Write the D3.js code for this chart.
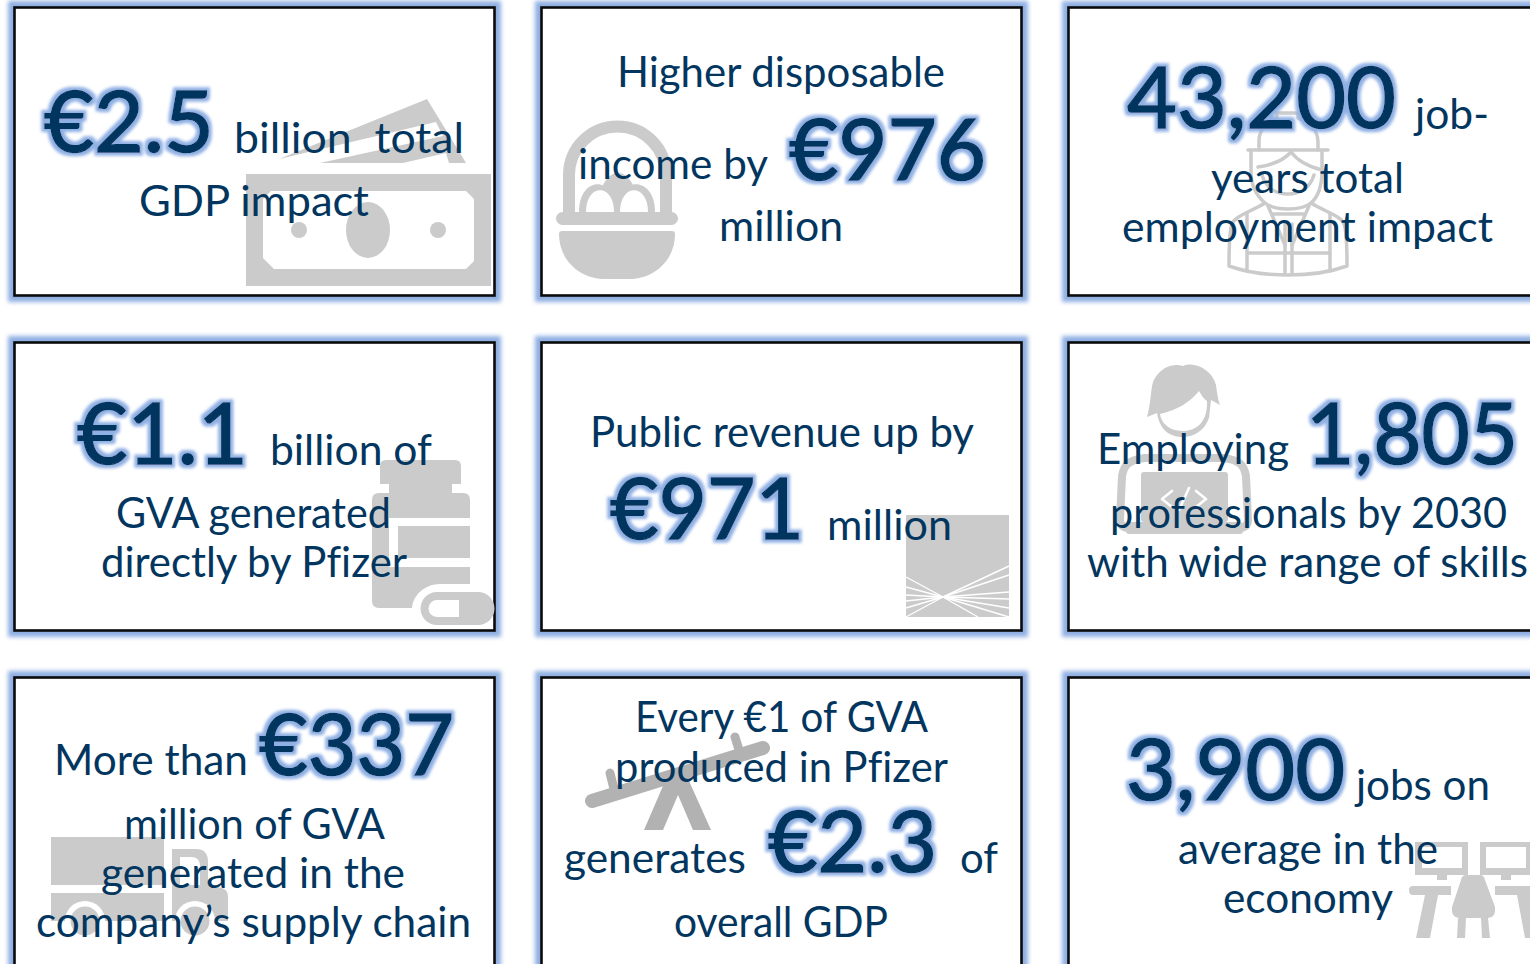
<!DOCTYPE html>
<html>
<head>
<meta charset="utf-8">
<title>Pfizer economic impact</title>
<script src="https://cdn.jsdelivr.net/npm/d3@7"></script>
<style>
  html, body { margin: 0; padding: 0; background: #fff; overflow: hidden; }
  text { font-family: Lato, "Open Sans", sans-serif; fill: #03365f; white-space: pre; font-variant-ligatures: none; }
  .small { font-size: 42px; }
  .big { font-size: 85px; stroke: #03365f; stroke-width: 1.5px; }
</style>
</head>
<body>
<div id="chart"></div>
<script>
// DATA, card by card, in reading order. Headline figures are flagged in bigParts
const cardText = [
  ["€2.5", "billion  total", "GDP impact"],
  ["Higher disposable", "income by", "€976", "million"],
  ["43,200", "job-", "years total", "employment impact"],
  ["€1.1", "billion of", "GVA generated", "directly by Pfizer"],
  ["Public revenue up by", "€971", "million"],
  ["Employing", "1,805", "professionals by 2030", "with wide range of skills"],
  ["More than", "€337", "million of GVA", "generated in the", "company’s supply chain"],
  ["Every €1 of GVA", "produced in Pfizer", "generates", "€2.3", "of", "overall GDP"],
  ["3,900", "jobs on", "average in the", "economy"]
];
const bigParts = ["€2.5", "€976", "43,200", "€1.1", "€971", "1,805", "€337", "€2.3", "3,900"];
const columns = [0, 1, 2];
const rows = [0, 1, 2];

// where each piece of text sits: [left, baseline, right]
const textSlots = [
  [[44, 152, 214], [234, 153, 464], [139, 216, 369]],
  [[617, 87, 945], [578, 179, 768], [789, 180, 986], [719, 241, 843]],
  [[1127, 128, 1396], [1415, 129, 1489], [1211, 193, 1404], [1122, 242, 1493]],
  [[77, 464, 248], [270, 465, 432], [116, 528, 391], [101, 577, 407]],
  [[590, 447, 974], [610, 539, 804], [827, 540, 952]],
  [[1097, 464, 1289], [1306, 464, 1518], [1110, 528, 1507], [1087, 577, 1528]],
  [[54, 775, 248], [259, 775, 454], [124, 839, 385], [101, 888, 405], [36, 937, 471]],
  [[635, 732, 928], [615, 782, 948], [564, 873, 746], [768, 872, 937], [960, 873, 998], [674, 937, 888]],
  [[1126, 800, 1345], [1356, 800, 1490], [1178, 864, 1438], [1223, 913, 1393]]
];

const width = 1530;
const height = 964;
const cardWidth = 480;
const cardHeight = 288;
const frameBlue = "#8fafe2";
const iconGrey = "#cbcbcb";

const xCard = d3.scaleLinear().domain([0, 2]).range([14.5, 1068.5]);
const yCard = d3.scaleLinear().domain([0, 2]).range([7.5, 677.5]);

const svg = d3.select("#chart").append("svg")
  .attr("width", width)
  .attr("height", height)
  .style("display", "block");

// glow filters
const defs = svg.append("defs");
defs.append("filter").attr("id", "frameGlow")
  .attr("x", "-5%").attr("y", "-5%").attr("width", "110%").attr("height", "110%")
  .append("feGaussianBlur").attr("stdDeviation", 2.2);

const textGlow = defs.append("filter").attr("id", "textGlow")
  .attr("x", "-10%").attr("y", "-20%").attr("width", "120%").attr("height", "140%");
textGlow.append("feMorphology").attr("in", "SourceAlpha").attr("operator", "dilate")
  .attr("radius", 2.8).attr("result", "fat");
textGlow.append("feGaussianBlur").attr("in", "fat").attr("stdDeviation", 1.8).attr("result", "soft");
textGlow.append("feFlood").attr("flood-color", "#8fb0e4").attr("result", "blue");
textGlow.append("feComposite").attr("in", "blue").attr("in2", "soft").attr("operator", "in").attr("result", "halo");
const merge = textGlow.append("feMerge");
merge.append("feMergeNode").attr("in", "halo");
merge.append("feMergeNode").attr("in", "SourceGraphic");

////////// frames //////////
const cells = d3.cross(rows, columns, (r, c) => ({ r, c }));

svg.append("g").selectAll("rect")
  .data(cells)
  .join("rect")
  .attr("x", (d) => xCard(d.c))
  .attr("y", (d) => yCard(d.r))
  .attr("width", cardWidth)
  .attr("height", cardHeight)
  .attr("fill", "none")
  .attr("stroke", frameBlue)
  .attr("stroke-width", 13)
  .attr("filter", "url(#frameGlow)");

svg.append("g").selectAll("rect")
  .data(cells)
  .join("rect")
  .attr("x", (d) => xCard(d.c))
  .attr("y", (d) => yCard(d.r))
  .attr("width", cardWidth)
  .attr("height", cardHeight)
  .attr("fill", "#fff")
  .attr("stroke", "#0a0a0a")
  .attr("stroke-width", 2.6);

////////// icons //////////
const icons = svg.append("g").attr("class", "icons");

function shape(d, fill) {
  return icons.append("path").attr("d", d).attr("fill", fill || iconGrey).attr("fill-rule", "evenodd");
}
function outline(d, w, colour) {
  return icons.append("path").attr("d", d).attr("fill", "none")
    .attr("stroke", colour || iconGrey).attr("stroke-width", w)
    .attr("stroke-linecap", "round").attr("stroke-linejoin", "round");
}

// banknotes
shape("M279,159 L427,99 L466,163 L449,163 L446,153 L403,163 L320,163 L443,136 L436,122 Z");
shape("M246,174 H491 V286 H246 Z M271,191 L263,199 V258 L274,269 H466 L474,261 V199 L466,191 Z");
icons.append("ellipse").attr("cx", 368).attr("cy", 230).attr("rx", 22).attr("ry", 28).attr("fill", iconGrey);
icons.selectAll("circle.dot").data([299, 438]).join("circle").attr("class", "dot")
  .attr("cx", (d) => d).attr("cy", 230).attr("r", 8).attr("fill", iconGrey);

// basket
outline("M569,213 V175 A48.5,48.5 0 0 1 666,175 V213", 12).attr("stroke-linecap", "butt");
shape("M598,212 C598,160 638,160 638,212 Z");
shape("M579,212 C579,175 616,175 616,212 Z");
shape("M617,212 C617,175 655,175 655,212 Z");
shape("M586,212 C586,183 614,183 614,212 Z", "#fff");
shape("M620,212 C620,183 648,183 648,212 Z", "#fff");
icons.append("rect").attr("x", 556).attr("y", 212).attr("width", 122).attr("height", 13).attr("rx", 6.5).attr("fill", iconGrey);
shape("M559,234 Q559,231 562,231 H672 Q675,231 675,234 C675,262 652,279 630,279 H604 C582,279 559,262 559,234 Z");

// worker
outline("M1248,150 H1328", 3.5);
outline("M1259,150 V141 C1259,129 1268,121 1277,118 V113 H1298 V118 C1309,122 1318,130 1318,142 V150", 3.5);
outline("M1251,151 V172 C1251,188 1258,197 1265,203 C1275,211 1301,211 1311,203 C1318,197 1322,188 1322,170 V151", 3.5);
outline("M1258,167 C1272,165 1284,160 1291,152 C1297,160 1306,166 1322,170", 3.5);
outline("M1262,175 C1266,188 1276,194 1288,194 C1300,194 1310,188 1314,175", 3.5);
outline("M1265,203 C1250,212 1235,216 1232,224 C1229,232 1229,250 1229,266 C1262,278 1314,278 1347,266 C1347,250 1347,232 1344,224 C1341,216 1326,212 1311,203", 3.5);
outline("M1247,214 V271 M1330,214 V271 M1247,253 H1330 M1285,224 V274 M1292,224 V274", 3.5);
outline("M1268,206 L1285,245 M1309,206 L1292,245 M1272,214 H1304", 3.5);

// bottle and pill
shape("M386,460 H455 Q461,460 461,466 V484 H452 V493 H463 Q470,493 470,500 V518 H389 V567 H470 V584 H440 C425,584 413,595 412,608 H379 Q372,608 372,601 V500 Q372,493 379,493 H389 V484 H380 V466 Q380,460 386,460 Z");
icons.append("rect").attr("x", 398).attr("y", 526).attr("width", 72).attr("height", 32).attr("fill", iconGrey);
shape("M437,592 H478 A16.5,16.5 0 0 1 478,625 H437 A16.5,16.5 0 0 1 437,592 Z M437,600 A8.5,8.5 0 0 0 437,617 H459 V600 Z");

// chart tile with rays
icons.append("rect").attr("x", 906).attr("y", 515).attr("width", 103).attr("height", 102).attr("fill", iconGrey);
const rayEnds = [[1009, 566], [1009, 575], [1009, 592], [1009, 599], [1009, 608], [1009, 617], [978, 617],
  [906, 577], [906, 587], [906, 595], [906, 601], [906, 608], [906, 617]];
icons.selectAll("line.ray").data(rayEnds).join("line").attr("class", "ray")
  .attr("x1", 943).attr("y1", 597)
  .attr("x2", (d) => d[0]).attr("y2", (d) => d[1])
  .attr("stroke", "#fff").attr("stroke-width", 1.4);

// developer with laptop
shape("M1147,417 C1152,400 1150,385 1155,378 C1162,366 1175,363 1183,366 C1195,361 1212,370 1216,385 C1217,392 1218,400 1220,405 L1211,400 L1209,418 C1204,432 1192,437 1183,437 C1172,437 1160,432 1157,413 Z");
shape("M1160,414 C1178,410 1190,402 1199,391 C1202,396 1204,399 1207,401 C1208,420 1198,431 1183,431 C1168,431 1161,422 1160,414 Z", "#fff");
outline("M1145,458 C1128,460 1124,465 1122,476 L1120,520 C1120,526 1124,528 1129,528 M1223,458 C1240,460 1244,465 1246,476 L1248,520 C1248,526 1244,528 1239,528 M1145,458 H1223", 8);
icons.append("rect").attr("x", 1141).attr("y", 472).attr("width", 87).attr("height", 50).attr("rx", 3).attr("fill", iconGrey);
icons.append("rect").attr("x", 1126).attr("y", 522).attr("width", 117).attr("height", 12).attr("rx", 3).attr("fill", iconGrey);
outline("M1172,491 L1162,499 L1172,507 M1196,491 L1206,499 L1196,507 M1189,488 L1179,510", 2.6, "#fff");

// truck
icons.append("rect").attr("x", 51).attr("y", 837).attr("width", 113).attr("height", 48).attr("fill", iconGrey);
icons.append("rect").attr("x", 51).attr("y", 893).attr("width", 113).attr("height", 28).attr("fill", iconGrey);
shape("M172,849 H196 Q208,849 208,862 V885 L222,888 Q228,890 228,897 V921 H172 Z M180,857 V885 H200 V866 Q200,857 191,857 Z");
icons.selectAll("circle.ring").data([85, 195]).join("circle").attr("class", "ring")
  .attr("cx", (d) => d).attr("cy", 921).attr("r", 20).attr("fill", "#fff");
icons.selectAll("circle.wheel").data([85, 195]).join("circle").attr("class", "wheel")
  .attr("cx", (d) => d).attr("cy", 921).attr("r", 14.5).attr("fill", iconGrey);

// seesaw
outline("M592,801 L763,748", 14, "#b2b2b2");
outline("M610,773 L615,793 M735,737 L740,753", 9, "#b2b2b2");
shape("M669,772 H685 L711,830 H693 L678,795 L663,830 H644 Z", "#b2b2b2");

// desks
shape("M1415,842 H1468 V875 H1447 V880 H1437 V875 H1415 Z M1422,847 V868 H1462 V847 Z");
shape("M1480,842 H1532 V875 H1511 V880 H1501 V875 H1480 Z M1486,847 V868 H1526 V847 Z");
shape("M1413,886 H1451 V895 H1438 L1430,938 H1416 L1425,895 H1413 Q1409,895 1409,890 Q1409,886 1413,886 Z");
shape("M1495,886 H1530 V938 H1525 L1517,895 H1495 Z");
shape("M1466,875 H1480 Q1484,875 1485,880 L1495,907 Q1496,918 1488,918 H1460 Q1451,918 1452,907 L1461,880 Q1462,875 1466,875 Z");
shape("M1458,918 H1466 L1465,938 H1457 Z M1481,918 H1488 L1490,938 H1482 Z");

////////// text //////////
const pieces = cardText.flatMap((lines, i) =>
  lines.map((label, j) => ({ label, slot: textSlots[i][j] }))
);

svg.append("g").selectAll("text")
  .data(pieces)
  .join("text")
  .attr("class", (d) => (bigParts.includes(d.label) ? "big" : "small"))
  .attr("x", (d) => d.slot[0])
  .attr("y", (d) => d.slot[1])
  .attr("textLength", (d) => d.slot[2] - d.slot[0])
  .attr("lengthAdjust", "spacingAndGlyphs")
  .attr("filter", (d) => (bigParts.includes(d.label) ? "url(#textGlow)" : null))
  .text((d) => d.label);
</script>
</body>
</html>
